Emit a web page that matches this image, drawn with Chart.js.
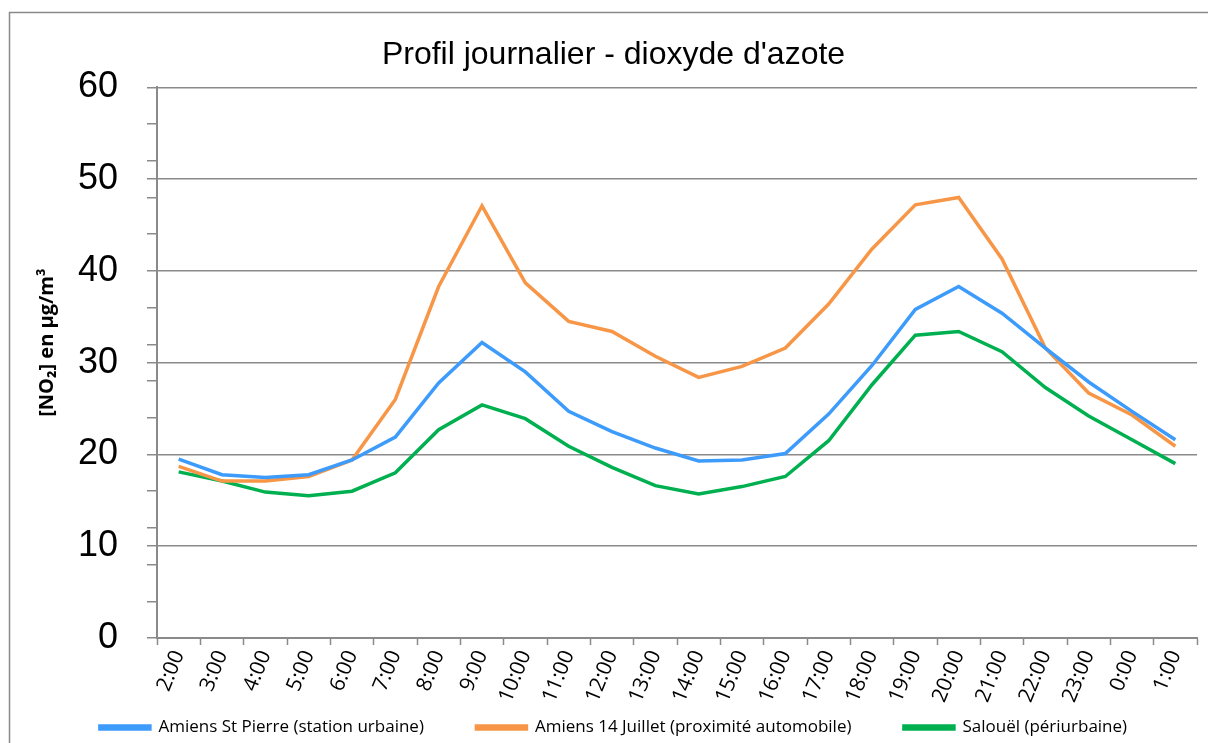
<!DOCTYPE html>
<html>
<head>
<meta charset="utf-8">
<script src="https://cdn.jsdelivr.net/npm/chart.js@4/dist/chart.umd.min.js"></script>
<style>
html,body{margin:0;padding:0;background:#fff;}
#wrap{width:1208px;height:743px;position:relative;}
</style>
</head>
<body>
<div id="wrap"><canvas id="c" width="1208" height="743"></canvas></div>
<script>
const hours = ["2:00","3:00","4:00","5:00","6:00","7:00","8:00","9:00","10:00","11:00","12:00","13:00","14:00","15:00","16:00","17:00","18:00","19:00","20:00","21:00","22:00","23:00","0:00","1:00"];
const stPierre = [19.5,17.8,17.5,17.8,19.4,21.9,27.8,32.2,29.0,24.7,22.5,20.7,19.3,19.4,20.1,24.4,29.7,35.8,38.3,35.4,31.6,27.9,24.7,21.6];
const juillet14 = [18.7,17.1,17.1,17.6,19.4,26.0,38.3,47.1,38.7,34.5,33.4,30.7,28.4,29.6,31.6,36.4,42.4,47.2,48.0,41.3,31.6,26.7,24.3,20.9];
const salouel = [18.1,17.1,15.9,15.5,16.0,18.0,22.7,25.4,23.9,20.9,18.6,16.6,15.7,16.5,17.6,21.5,27.6,33.0,33.4,31.2,27.3,24.2,21.6,19.0];
const seriesNames = ["Amiens St Pierre (station urbaine)","Amiens 14 Juillet (proximité automobile)","Salouël (périurbaine)"];
const seriesColors = ["#3D9BFB","#F79646","#00B050"];
const titleText = "Profil journalier - dioxyde d'azote";
const yTitle = "\u2003\u2003[NO\u2082] en µg/m³";

const GRID = "#8a8a8a";

const framePlugin = {
  id: 'frame',
  beforeDraw(chart){
    const ctx = chart.ctx;
    ctx.save();
    ctx.fillStyle = '#fff';
    ctx.fillRect(0,0,chart.width,chart.height);
    ctx.strokeStyle = '#8a8a8a';
    ctx.lineWidth = 1.5;
    ctx.strokeRect(9.5, 12.5, 1400, 900);
    ctx.restore();
  }
};

const mk = (i, data) => ({
  label: seriesNames[i],
  data: data,
  borderColor: seriesColors[i],
  backgroundColor: seriesColors[i],
  borderWidth: 3.5,
  pointRadius: 0,
  tension: 0,
  fill: false
});

const chart = new Chart(document.getElementById('c'), {
  type: 'line',
  data: {
    labels: hours,
    datasets: [mk(0, stPierre), mk(1, juillet14), mk(2, salouel)]
  },
  plugins: [framePlugin],
  options: {
    responsive: false,
    animation: false,
    layout: { padding: { left: 30, right: 11, top: 0, bottom: -3 } },
    plugins: {
      title: {
        display: true,
        text: titleText,
        color: '#000',
        font: { family: 'Liberation Sans', size: 32, weight: 'normal' },
        padding: { top: 36, bottom: 13 }
      },
      legend: {
        position: 'bottom',
        labels: {
          color: '#000',
          font: { family: 'Open Sans', size: 17 },
          boxWidth: 50,
          boxHeight: 3,
          padding: 10,
          generateLabels(ch){
            const items = Chart.defaults.plugins.legend.labels.generateLabels(ch);
            items.forEach((it, i) => {
              if (i < items.length - 1) it.text = it.text + "\u2003\u2003\u2002";
            });
            return items;
          }
        }
      },
      tooltip: { enabled: false }
    },
    scales: {
      x: {
        type: 'category',
        offset: true,
        afterFit(scale){ scale.height = 71; },
        grid: {
          offset: true,
          drawOnChartArea: false,
          drawTicks: true,
          tickLength: 7,
          tickColor: GRID,
          tickWidth: 1.5
        },
        border: { color: GRID, width: 2 },
        ticks: {
          color: '#000',
          font: { family: 'Open Sans', size: 21 },
          minRotation: 68,
          maxRotation: 68,
          autoSkip: false,
          padding: 2
        }
      },
      y: {
        min: 0,
        max: 60,
        afterFit(scale){ scale.width = 127; },
        title: {
          display: true,
          text: yTitle,
          color: '#000',
          font: { family: 'Open Sans', size: 20, weight: 'bold' },
          padding: { top: 5, bottom: 0 }
        },
        grid: {
          color: ctx => (ctx.tick && ctx.tick.value % 10 === 0) ? GRID : 'rgba(0,0,0,0)',
          lineWidth: 1.5,
          tickLength: 10,
          tickColor: ctx => (ctx.tick && (ctx.tick.value % 10 === 0 || ctx.tick.value % 4 === 0)) ? GRID : 'rgba(0,0,0,0)',
          tickWidth: 1.5
        },
        border: { color: GRID, width: 2 },
        ticks: {
          stepSize: 2,
          autoSkip: false,
          color: '#000',
          font: { family: 'Liberation Sans', size: 36 },
          padding: 29,
          callback: v => (v % 10 === 0 ? String(v) : '')
        }
      }
    }
  }
});
</script>
</body>
</html>
